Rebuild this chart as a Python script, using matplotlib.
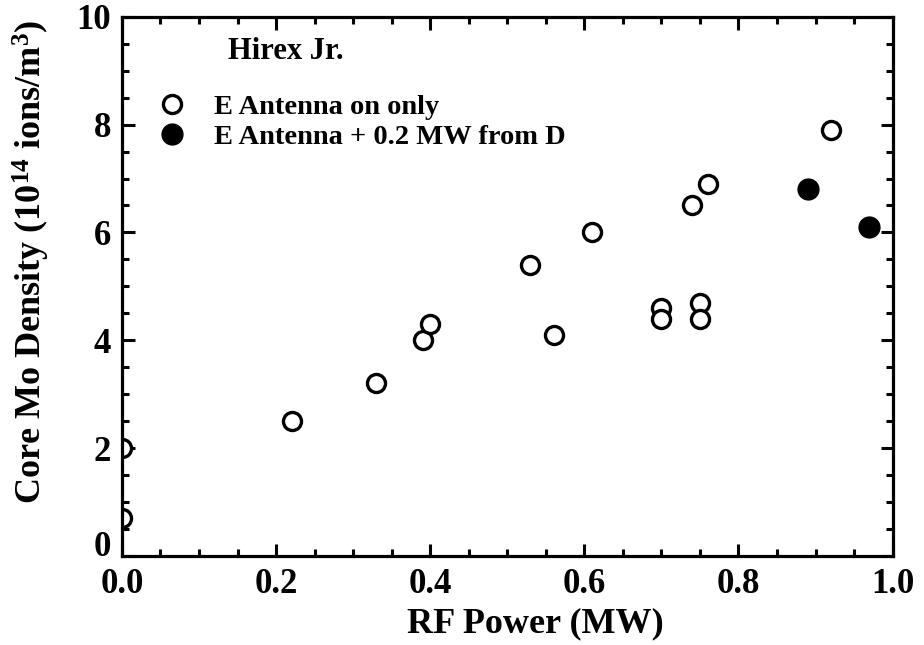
import matplotlib
matplotlib.use('Agg')
import matplotlib.pyplot as plt
from matplotlib.ticker import MultipleLocator, FixedLocator
from matplotlib.transforms import ScaledTranslation

plt.rcParams['font.family'] = ['Liberation Serif', 'DejaVu Serif']
plt.rcParams['font.weight'] = 'bold'
plt.rcParams['mathtext.fontset'] = 'custom'
plt.rcParams['mathtext.rm'] = 'Liberation Serif:bold'
plt.rcParams['mathtext.it'] = 'Liberation Serif:bold'
plt.rcParams['mathtext.bf'] = 'Liberation Serif:bold'

# E antenna only
power_e = [0.0, 0.0, 0.22, 0.33, 0.39, 0.40, 0.53, 0.56, 0.61, 0.70, 0.70, 0.75, 0.75, 0.74, 0.76, 0.92]
dens_e = [0.7, 2.0, 2.5, 3.2, 4.0, 4.3, 5.4, 4.1, 6.0, 4.6, 4.4, 4.7, 4.4, 6.5, 6.9, 7.9]

# E antenna plus 0.2 MW from D
power_ed = [0.89, 0.97]
dens_ed = [6.8, 6.1]

fig = plt.figure(figsize=(9.24, 6.45), dpi=100)
ax = fig.add_axes([0.132, 0.138, 0.834, 0.836])

ax.plot(power_e, dens_e, 'o', ms=13, mfc='white', mec='black', mew=2.4,
        label='E Antenna on only')
ax.plot(power_ed, dens_ed, 'o', ms=15, mfc='black', mec='black', mew=1,
        label='E Antenna + 0.2 MW from D')

ax.set_xlim(0, 1.0)
ax.set_ylim(0, 10)
ax.xaxis.set_major_locator(FixedLocator([0.0, 0.2, 0.4, 0.6, 0.8, 1.0]))
ax.xaxis.set_minor_locator(MultipleLocator(0.05))
ax.yaxis.set_major_locator(FixedLocator([0, 2, 4, 6, 8, 10]))
ax.yaxis.set_minor_locator(MultipleLocator(0.5))
ax.xaxis.set_major_formatter(plt.FuncFormatter(lambda v, p: '%.1f' % v))

for s in ax.spines.values():
    s.set_linewidth(2.3)
ax.tick_params(which='both', direction='in', top=True, right=True, width=2.2)
ax.tick_params(which='major', length=9, labelsize=25)
ax.tick_params(which='minor', length=5)
ax.tick_params(axis='x', pad=9)
ax.tick_params(axis='y', pad=8)

# lift the y "0" so it clears the "0.0" below it
zero = ax.yaxis.get_major_ticks()[0].label1
zero.set_transform(zero.get_transform() + ScaledTranslation(0, 9 / 72, fig.dpi_scale_trans))

ax.set_xlabel('RF Power (MW)', fontsize=26, fontweight='bold')
ax.xaxis.set_label_coords(0.536, -0.095)
ax.set_ylabel('Core Mo Density (10$^{14}$ ions/m$^3$)', fontsize=26,
              fontweight='bold')
ax.yaxis.set_label_coords(-0.091, 0.545)

ax.text(0.137, 0.935, 'Hirex Jr.', transform=ax.transAxes, fontsize=22,
        fontweight='bold', va='center')
leg = ax.legend(loc='upper left', bbox_to_anchor=(0.047, 0.857), frameon=False,
                prop={'size': 20.5, 'weight': 'bold'}, handlelength=0.95,
                handletextpad=1.0, labelspacing=0.15, borderpad=0,
                borderaxespad=0)

fig.savefig('out.png', dpi=100)
